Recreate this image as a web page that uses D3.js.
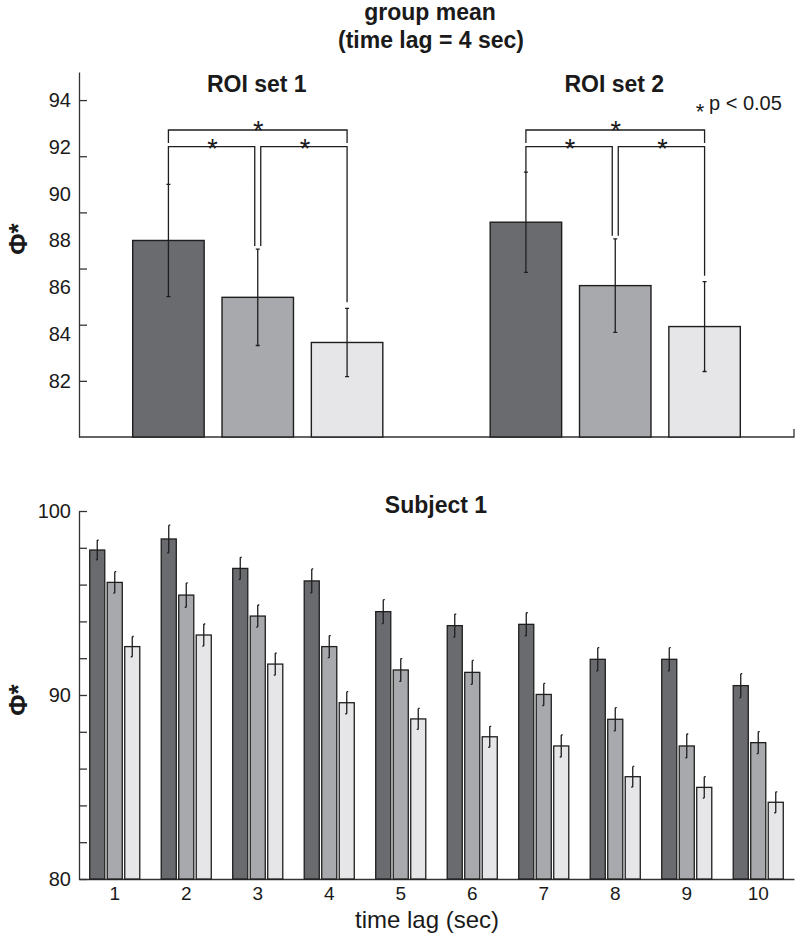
<!DOCTYPE html>
<html><head><meta charset="utf-8">
<script src="https://cdn.jsdelivr.net/npm/d3@7"></script>
<style>
body{margin:0;background:#fff}
svg{display:block}
text{font-family:"Liberation Sans",Arial,Helvetica,sans-serif;fill:#1a1a1a}
</style>
</head><body>
<svg id="c" width="800" height="939"></svg>
<script>
// ---------- data ----------
const roiSets = ["ROI set 1", "ROI set 2"];
const conditions = ["condition 1", "condition 2", "condition 3"];
const roiMeans = [[88.0, 85.57, 83.64], [88.78, 86.07, 84.32]];
const roiErrors = [[2.4, 2.06, 1.46], [2.14, 2.0, 1.92]];
const roiTickLabels = [82, 84, 86, 88, 90, 92, 94];
const roiTickMarks = [82, 84.4, 86.8, 89.2, 91.6, 94];
const sigPairs = [[0, 1], [1, 2], [0, 2]];

const lags = [1, 2, 3, 4, 5, 6, 7, 8, 9, 10];
const subjMeanDark   = [97.88, 98.48, 96.88, 96.20, 94.53, 93.77, 93.84, 91.94, 91.94, 90.51];
const subjMeanMedium = [96.12, 95.43, 94.29, 92.63, 91.36, 91.23, 90.03, 88.68, 87.23, 87.41];
const subjMeanLight  = [92.63, 93.26, 91.68, 89.58, 88.70, 87.73, 87.23, 85.56, 84.98, 84.17];
const subjErrDark    = [0.54, 0.75, 0.60, 0.65, 0.65, 0.63, 0.63, 0.63, 0.63, 0.65];
const subjErrMedium  = [0.58, 0.66, 0.60, 0.60, 0.62, 0.65, 0.60, 0.63, 0.65, 0.60];
const subjErrLight   = [0.55, 0.60, 0.60, 0.60, 0.57, 0.57, 0.60, 0.56, 0.58, 0.57];
const subjTickMarks = [80, 82, 84, 86, 88, 90, 92, 94, 96, 98, 100];
const subjTickLabels = [80, 90, 100];

const fills = ["#6a6b6f", "#a8a9ac", "#e6e6e8"];
const ink = "#1e1e1e";

// ---------- setup ----------
const svg = d3.select("#c");

// titles
svg.append("text").attr("x", 430).attr("y", 20).attr("text-anchor", "middle")
  .attr("font-size", 23).attr("font-weight", "bold").text("group mean");
svg.append("text").attr("x", 431).attr("y", 48).attr("text-anchor", "middle")
  .attr("font-size", 23).attr("font-weight", "bold").text("(time lag = 4 sec)");

// ================= TOP PANEL =================
const yTop = d3.scaleLinear().domain([79.6, 95.2]).range([437, 72]);
const xTop = d3.scaleBand().domain(roiSets).range([79, 794]);
const xTopIn = d3.scaleBand().domain(d3.range(conditions.length)).range([-134, 134])
  .paddingInner(0.2).paddingOuter(0.1);
const top0 = yTop(yTop.domain()[0]);

// y axis labels
const gTL = svg.append("g").attr("transform", "translate(79,0)")
  .call(d3.axisLeft(yTop).tickValues(roiTickLabels).tickSize(0).tickPadding(8));
gTL.select(".domain").remove();
gTL.selectAll("text").attr("font-size", 20).style("font-family", "Liberation Sans, Arial, sans-serif").attr("fill", "#1a1a1a");
// y axis tick marks
const gTM = svg.append("g").attr("transform", "translate(79,0)")
  .call(d3.axisRight(yTop).tickValues(roiTickMarks).tickSize(8).tickSizeOuter(0).tickFormat(""));
gTM.selectAll("path,line").attr("stroke", "#333").attr("stroke-width", 1.3);

// x axis line
svg.append("path").attr("d", `M${xTop.range()[0]},${top0}H${xTop.range()[1]}V${top0 - 8}`)
  .attr("fill", "none").attr("stroke", "#333").attr("stroke-width", 1.3);

roiSets.forEach((set, i) => {
  const cx = j => xTop(set) + xTop.bandwidth() / 2 + xTopIn(j) + xTopIn.bandwidth() / 2;
  const g = svg.append("g");
  // title
  g.append("text").attr("x", xTop(set) + xTop.bandwidth() / 2 - 1).attr("y", 92)
    .attr("text-anchor", "middle").attr("font-size", 23).attr("font-weight", "bold").text(set);
  // bars
  conditions.forEach((c, j) => {
    const m = roiMeans[i][j];
    g.append("rect")
      .attr("x", xTop(set) + xTop.bandwidth() / 2 + xTopIn(j))
      .attr("y", yTop(m)).attr("width", xTopIn.bandwidth()).attr("height", top0 - yTop(m))
      .attr("fill", fills[j]).attr("stroke", ink).attr("stroke-width", 1.4);
    const e = roiErrors[i][j];
    const x = cx(j);
    g.append("path")
      .attr("d", `M${x},${yTop(m - e)}V${yTop(m + e)}M${x - 2},${yTop(m - e)}H${x + 2}M${x - 2},${yTop(m + e)}H${x + 2}`)
      .attr("stroke", ink).attr("stroke-width", 1.3).attr("fill", "none");
  });
  // significance brackets
  const errTop = j => yTop(roiMeans[i][j] + roiErrors[i][j]) - j * 3;
  const innerY = 146.7, outerY = 130;
  sigPairs.forEach(([a, b]) => {
    let d, mid, starY;
    if (b - a === 1) {
      const xl = cx(a) + (a === 0 ? 0 : 3);
      const xr = cx(b) - (b === conditions.length - 1 ? 0 : 3);
      d = `M${xl},${errTop(a)}V${innerY}H${xr}V${errTop(b)}`;
      mid = (xl + xr) / 2 + 1; starY = innerY - 5;
    } else {
      d = `M${cx(a)},${outerY + 13}V${outerY}H${cx(b)}V${outerY + 13}`;
      mid = (cx(a) + cx(b)) / 2 + 0.5; starY = outerY - 6;
    }
    g.append("path").attr("d", d).attr("fill", "none").attr("stroke", ink).attr("stroke-width", 1.3);
    g.append("text").attr("x", mid).attr("y", starY + 16).attr("text-anchor", "middle")
      .attr("font-size", 27).text("*");
  });
});

// legend p < 0.05
svg.append("text").attr("x", 700).attr("y", 119).attr("text-anchor", "middle")
  .attr("font-size", 22).text("*");
svg.append("text").attr("x", 709).attr("y", 110).attr("font-size", 20).text("p < 0.05");

// y label top
svg.append("text").attr("transform", "translate(27,239) rotate(-90)").attr("text-anchor", "middle")
  .attr("font-size", 26).attr("font-weight", "bold").text("Φ*");

// ================= BOTTOM PANEL =================
const yBot = d3.scaleLinear().domain([80, 100]).range([879, 511]);
const xBot = d3.scaleBand().domain(lags).range([79, 794]);
const xBotIn = d3.scaleBand().domain(d3.range(conditions.length)).range([-26.25, 26.25])
  .paddingInner(0.14).paddingOuter(0.07);
const bot0 = yBot(80);

svg.append("text").attr("x", 436).attr("y", 513).attr("text-anchor", "middle")
  .attr("font-size", 23).attr("font-weight", "bold").text("Subject 1");

const gBL = svg.append("g").attr("transform", "translate(79,0)")
  .call(d3.axisLeft(yBot).tickValues(subjTickLabels).tickSize(0).tickPadding(8));
gBL.select(".domain").remove();
gBL.selectAll("text").attr("font-size", 20).style("font-family", "Liberation Sans, Arial, sans-serif").attr("fill", "#1a1a1a");
const gBM = svg.append("g").attr("transform", "translate(79,0)")
  .call(d3.axisRight(yBot).tickValues(subjTickMarks).tickSize(8).tickSizeOuter(0).tickFormat(""));
gBM.selectAll("path,line").attr("stroke", "#333").attr("stroke-width", 1.3);

const gBX = svg.append("g").attr("transform", `translate(0,${bot0})`)
  .call(d3.axisBottom(xBot).tickSize(0).tickSizeOuter(0).tickPadding(8));
gBX.select(".domain").attr("stroke", "#333").attr("stroke-width", 1.3);
gBX.selectAll("text").attr("font-size", 19).style("font-family", "Liberation Sans, Arial, sans-serif").attr("fill", "#1a1a1a");

const subjMeans = [subjMeanDark, subjMeanMedium, subjMeanLight];
const subjErrs = [subjErrDark, subjErrMedium, subjErrLight];
const gBars = svg.append("g");
lags.forEach((lag, k) => {
  conditions.forEach((c, j) => {
    const m = subjMeans[j][k], e = subjErrs[j][k];
    const x0 = xBot(lag) + xBot.bandwidth() / 2 + xBotIn(j);
    gBars.append("rect").attr("x", x0).attr("y", yBot(m))
      .attr("width", xBotIn.bandwidth()).attr("height", bot0 - yBot(m))
      .attr("fill", fills[j]).attr("stroke", ink).attr("stroke-width", 1.3);
    const x = x0 + xBotIn.bandwidth() / 2;
    gBars.append("path")
      .attr("d", `M${x},${yBot(m - e)}V${yBot(m + e)}M${x - 1.5},${yBot(m - e)}H${x}M${x},${yBot(m + e)}H${x + 1.5}`)
      .attr("stroke", ink).attr("stroke-width", 1.3).attr("fill", "none");
  });
});

svg.append("text").attr("x", 427).attr("y", 928).attr("text-anchor", "middle")
  .attr("font-size", 24).text("time lag (sec)");

svg.append("text").attr("transform", "translate(27,700) rotate(-90)").attr("text-anchor", "middle")
  .attr("font-size", 26).attr("font-weight", "bold").text("Φ*");
</script>
</body></html>
